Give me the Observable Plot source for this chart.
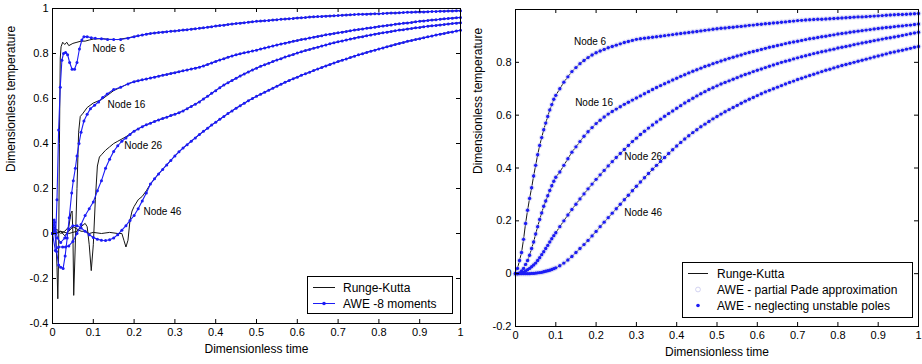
<!DOCTYPE html>
<html><head><meta charset="utf-8">
<script src="https://cdn.jsdelivr.net/npm/d3@7"></script>
<script src="https://cdn.jsdelivr.net/npm/@observablehq/plot@0.6"></script>
<style>
body{margin:0;background:#fff;font-family:"Liberation Sans",Arial,sans-serif;}
#wrap{position:relative;width:922px;height:364px;overflow:hidden;background:#fff;}
#wrap svg{position:absolute;top:0;}
</style></head><body><div id="wrap"></div>
<script>
// ---------- ticks / labels ----------
const xTicks = [0,0.1,0.2,0.3,0.4,0.5,0.6,0.7,0.8,0.9,1];
const yTicksLeft = [-0.4,-0.2,0,0.2,0.4,0.6,0.8,1];
const yTicksRight = [-0.2,0,0.2,0.4,0.6,0.8];
const nodeNames = ["Node 6","Node 16","Node 26","Node 46"];
const leftLabelX = [0.098,0.135,0.176,0.223];
const leftLabelY = [0.822,0.573,0.39,0.098];
const rightLabelX = [0.145,0.148,0.27,0.27];
const rightLabelY = [0.878,0.646,0.441,0.232];
const xLabel = "Dimensionless time";
const yLabel = "Dimensionless temperature";
const legendLeft = ["Runge-Kutta","AWE -8 moments"];
const legendRight = ["Runge-Kutta","AWE - partial Pade approximation","AWE - neglecting unstable poles"];

// ---------- left panel: early transients [t, y] ----------
const rk6Start = [[0,0],[0.004,0.03],[0.008,0],[0.011,-0.15],[0.013,-0.29],[0.015,-0.1],[0.017,0.4],[0.019,0.78],[0.021,0.83],[0.025,0.85],[0.03,0.84],[0.035,0.85],[0.04,0.835],[0.05,0.845],[0.06,0.85],[0.07,0.855],[0.08,0.855],[0.09,0.86],[0.1,0.864],[0.12,0.866],[0.14,0.863],[0.16,0.862],[0.18,0.868]];
const awe6Start = [[0,0],[0.004,0.06],[0.008,0],[0.011,0.15],[0.015,0.46],[0.019,0.65],[0.023,0.77],[0.027,0.8],[0.032,0.805],[0.037,0.795],[0.042,0.76],[0.048,0.73],[0.054,0.73],[0.06,0.76],[0.066,0.82],[0.072,0.86],[0.077,0.875],[0.085,0.875],[0.095,0.87],[0.105,0.868],[0.12,0.866],[0.135,0.862],[0.15,0.862],[0.167,0.862],[0.185,0.868]];
const rk16Start = [[0,0],[0.01,0.02],[0.02,0],[0.03,0.01],[0.04,0.03],[0.045,0.09],[0.048,0.1],[0.05,0],[0.052,-0.275],[0.055,-0.1],[0.06,0.2],[0.064,0.45],[0.068,0.52],[0.075,0.535],[0.085,0.56],[0.1,0.58],[0.12,0.595],[0.135,0.615],[0.15,0.635],[0.167,0.65],[0.185,0.665]];
const awe16Start = [[0,0],[0.005,0.02],[0.01,-0.08],[0.015,-0.14],[0.02,-0.15],[0.026,-0.155],[0.031,-0.1],[0.036,-0.02],[0.041,0.07],[0.047,0.18],[0.051,0.235],[0.056,0.29],[0.06,0.345],[0.065,0.4],[0.07,0.45],[0.077,0.5],[0.085,0.53],[0.093,0.555],[0.103,0.57],[0.113,0.585],[0.123,0.605],[0.134,0.62],[0.15,0.64],[0.167,0.65],[0.185,0.665]];
const rk26Start = [[0,0],[0.02,0.01],[0.04,0],[0.06,0.01],[0.07,0.03],[0.08,0.045],[0.085,0.03],[0.09,-0.05],[0.095,-0.165],[0.1,-0.05],[0.105,0.15],[0.11,0.3],[0.115,0.34],[0.12,0.35],[0.13,0.37],[0.14,0.385],[0.15,0.4],[0.16,0.41],[0.17,0.42],[0.18,0.43],[0.19,0.442]];
const awe26Start = [[0,0],[0.007,-0.075],[0.015,-0.06],[0.025,-0.06],[0.032,-0.06],[0.04,-0.055],[0.05,-0.035],[0.06,0],[0.07,0.04],[0.08,0.08],[0.09,0.11],[0.1,0.14],[0.11,0.19],[0.12,0.235],[0.13,0.29],[0.14,0.33],[0.15,0.365],[0.16,0.39],[0.17,0.41],[0.18,0.425],[0.19,0.44]];
const rk46Start = [[0,0],[0.005,0.02],[0.01,0],[0.02,0.01],[0.03,-0.01],[0.04,0.01],[0.05,0.03],[0.06,0.02],[0.07,0.01],[0.08,0.01],[0.09,0],[0.1,0.005],[0.12,0],[0.14,0.005],[0.16,0],[0.17,0],[0.175,-0.03],[0.18,-0.06],[0.185,-0.03],[0.19,0.06],[0.195,0.1],[0.2,0.12],[0.21,0.15],[0.22,0.165],[0.23,0.19]];
const awe46Start = [[0,0],[0.005,0.05],[0.012,-0.02],[0.02,-0.04],[0.03,-0.02],[0.04,0.02],[0.05,0.035],[0.06,0.035],[0.07,0.025],[0.08,0.01],[0.09,-0.005],[0.1,-0.018],[0.11,-0.025],[0.12,-0.03],[0.13,-0.031],[0.14,-0.028],[0.15,-0.02],[0.16,-0.005],[0.17,0.015],[0.18,0.035],[0.19,0.058],[0.2,0.08],[0.21,0.11],[0.22,0.145],[0.23,0.18]];

// ---------- left panel: common tails ----------
const leftTailT = [0.20,0.21,0.22,0.23,0.24,0.25,0.26,0.27,0.28,0.29,0.30,0.31,0.32,0.33,0.34,0.35,0.36,0.37,0.38,0.39,0.40,0.41,0.42,0.43,0.44,0.45,0.46,0.47,0.48,0.49,0.50,0.51,0.52,0.53,0.54,0.55,0.56,0.57,0.58,0.59,0.60,0.61,0.62,0.63,0.64,0.65,0.66,0.67,0.68,0.69,0.70,0.71,0.72,0.73,0.74,0.75,0.76,0.77,0.78,0.79,0.80,0.81,0.82,0.83,0.84,0.85,0.86,0.87,0.88,0.89,0.90,0.91,0.92,0.93,0.94,0.95,0.96,0.97,0.98,0.99,1.00];
const tail6 = [0.875,0.879,0.882,0.886,0.889,0.891,0.893,0.895,0.897,0.899,0.900,0.902,0.904,0.906,0.908,0.910,0.912,0.914,0.917,0.919,0.922,0.924,0.926,0.929,0.931,0.933,0.935,0.937,0.939,0.941,0.943,0.944,0.946,0.947,0.949,0.950,0.952,0.953,0.955,0.956,0.958,0.959,0.960,0.962,0.963,0.964,0.965,0.966,0.967,0.968,0.969,0.970,0.971,0.972,0.973,0.974,0.974,0.975,0.976,0.977,0.977,0.978,0.979,0.980,0.980,0.981,0.982,0.983,0.983,0.984,0.985,0.985,0.986,0.987,0.987,0.988,0.988,0.989,0.989,0.990,0.990];
const tail16 = [0.675,0.679,0.683,0.687,0.691,0.695,0.699,0.703,0.707,0.711,0.715,0.719,0.723,0.727,0.731,0.735,0.739,0.745,0.751,0.758,0.765,0.771,0.777,0.783,0.789,0.794,0.799,0.803,0.807,0.811,0.815,0.820,0.824,0.829,0.833,0.838,0.842,0.846,0.850,0.854,0.858,0.862,0.865,0.869,0.872,0.876,0.879,0.883,0.886,0.889,0.892,0.895,0.898,0.901,0.904,0.907,0.909,0.912,0.914,0.917,0.920,0.922,0.925,0.927,0.930,0.932,0.934,0.936,0.938,0.941,0.943,0.945,0.947,0.949,0.950,0.952,0.954,0.956,0.957,0.959,0.960];
const tail26 = [0.455,0.465,0.475,0.483,0.490,0.498,0.505,0.511,0.517,0.524,0.530,0.537,0.545,0.555,0.565,0.575,0.585,0.598,0.610,0.623,0.635,0.648,0.660,0.670,0.680,0.690,0.700,0.709,0.718,0.727,0.735,0.743,0.750,0.757,0.764,0.771,0.777,0.784,0.790,0.796,0.802,0.808,0.813,0.818,0.823,0.828,0.833,0.838,0.843,0.848,0.852,0.856,0.860,0.864,0.868,0.872,0.875,0.879,0.882,0.886,0.889,0.892,0.895,0.898,0.901,0.904,0.906,0.909,0.911,0.914,0.916,0.919,0.921,0.923,0.925,0.927,0.929,0.931,0.933,0.935,0.937];
const tail46 = [0.220,0.243,0.265,0.285,0.305,0.325,0.345,0.363,0.380,0.395,0.410,0.425,0.440,0.454,0.468,0.482,0.495,0.508,0.520,0.533,0.545,0.557,0.568,0.579,0.590,0.600,0.610,0.619,0.628,0.637,0.646,0.655,0.663,0.672,0.680,0.688,0.695,0.703,0.710,0.717,0.724,0.731,0.738,0.745,0.751,0.758,0.764,0.770,0.776,0.782,0.788,0.794,0.799,0.805,0.810,0.815,0.820,0.825,0.830,0.835,0.840,0.845,0.849,0.854,0.858,0.862,0.866,0.870,0.874,0.878,0.882,0.886,0.889,0.893,0.896,0.900,0.903];

// ---------- right panel ----------
const rightT = [0,0.005,0.01,0.015,0.02,0.025,0.03,0.035,0.04,0.045,0.05,0.055,0.06,0.065,0.07,0.075,0.08,0.085,0.09,0.095,0.1,0.11,0.12,0.13,0.14,0.15,0.16,0.17,0.18,0.19,0.20,0.21,0.22,0.23,0.24,0.25,0.26,0.27,0.28,0.29,0.30,0.31,0.32,0.33,0.34,0.35,0.36,0.37,0.38,0.39,0.40,0.41,0.42,0.43,0.44,0.45,0.46,0.47,0.48,0.49,0.50,0.51,0.52,0.53,0.54,0.55,0.56,0.57,0.58,0.59,0.60,0.61,0.62,0.63,0.64,0.65,0.66,0.67,0.68,0.69,0.70,0.71,0.72,0.73,0.74,0.75,0.76,0.77,0.78,0.79,0.80,0.81,0.82,0.83,0.84,0.85,0.86,0.87,0.88,0.89,0.90,0.91,0.92,0.93,0.94,0.95,0.96,0.97,0.98,0.99,1.00];
const right6 = [0,0.02,0.05,0.08,0.13,0.19,0.24,0.285,0.325,0.37,0.41,0.45,0.485,0.515,0.545,0.57,0.595,0.62,0.64,0.66,0.675,
0.70,0.725,0.745,0.765,0.78,0.795,0.807,0.818,0.828,0.836,
0.843,0.849,0.855,0.86,0.865,0.87,0.875,0.879,0.883,0.887,
0.889,0.891,0.893,0.895,0.897,0.899,0.901,0.903,0.905,0.907,
0.909,0.911,0.913,0.915,0.917,0.919,0.921,0.923,0.925,0.927,
0.929,0.930,0.932,0.933,0.935,0.936,0.938,0.940,0.941,0.943,
0.944,0.946,0.947,0.949,0.950,0.952,0.953,0.955,0.956,0.958,
0.959,0.960,0.961,0.962,0.963,0.963,0.964,0.965,0.966,0.967,
0.968,0.969,0.970,0.971,0.972,0.972,0.973,0.974,0.975,0.976,
0.977,0.978,0.979,0.980,0.981,0.981,0.982,0.983,0.984,0.985];
const right16 = [0,0,0.003,0.01,0.02,0.035,0.05,0.07,0.095,0.12,0.15,0.178,0.205,0.23,0.255,0.275,0.295,0.315,0.333,0.35,0.365,
0.385,0.41,0.435,0.46,0.48,0.50,0.52,0.537,0.553,0.568,
0.581,0.593,0.604,0.614,0.623,0.632,0.641,0.649,0.657,0.665,
0.673,0.681,0.689,0.697,0.705,0.712,0.719,0.726,0.733,0.740,
0.747,0.753,0.760,0.766,0.772,0.778,0.784,0.789,0.795,0.800,
0.805,0.810,0.815,0.819,0.824,0.828,0.833,0.837,0.841,0.845,
0.849,0.853,0.857,0.860,0.864,0.867,0.871,0.874,0.877,0.880,
0.883,0.886,0.889,0.891,0.894,0.897,0.899,0.902,0.904,0.907,
0.909,0.911,0.914,0.916,0.918,0.920,0.922,0.924,0.926,0.928,
0.930,0.932,0.933,0.935,0.937,0.938,0.940,0.941,0.943,0.945];
const right26 = [0,0,0.001,0.003,0.006,0.01,0.015,0.02,0.026,0.033,0.04,0.05,0.06,0.072,0.083,0.095,0.107,0.12,0.132,0.144,0.155,
0.178,0.20,0.222,0.243,0.263,0.283,0.302,0.321,0.339,0.357,
0.374,0.391,0.408,0.424,0.44,0.455,0.47,0.485,0.50,0.513,
0.527,0.539,0.551,0.563,0.574,0.585,0.596,0.606,0.616,0.626,
0.636,0.646,0.655,0.664,0.673,0.681,0.689,0.697,0.704,0.711,
0.718,0.724,0.730,0.736,0.742,0.748,0.754,0.759,0.765,0.770,
0.775,0.780,0.785,0.790,0.795,0.800,0.804,0.808,0.813,0.817,
0.821,0.825,0.829,0.833,0.836,0.840,0.843,0.847,0.850,0.854,
0.857,0.860,0.863,0.867,0.870,0.873,0.876,0.879,0.882,0.885,
0.888,0.891,0.893,0.896,0.899,0.902,0.905,0.908,0.911,0.914];
const right46 = [0,0,0,0,0,0,0,0,0.001,0.001,0.002,0.003,0.004,0.005,0.007,0.009,0.011,0.013,0.016,0.019,0.022,
0.03,0.04,0.052,0.065,0.08,0.095,0.11,0.126,0.143,0.16,
0.178,0.195,0.212,0.229,0.246,0.263,0.28,0.297,0.314,0.331,
0.347,0.363,0.379,0.395,0.41,0.425,0.44,0.455,0.469,0.483,
0.497,0.51,0.522,0.534,0.545,0.556,0.566,0.576,0.586,0.595,
0.604,0.613,0.621,0.629,0.637,0.645,0.653,0.66,0.667,0.674,
0.681,0.688,0.694,0.700,0.706,0.712,0.718,0.724,0.729,0.735,
0.740,0.745,0.750,0.755,0.760,0.765,0.770,0.774,0.779,0.783,
0.788,0.792,0.796,0.800,0.804,0.808,0.812,0.816,0.820,0.824,
0.828,0.832,0.836,0.839,0.843,0.846,0.850,0.853,0.857,0.860];

// ---------- helpers ----------
const BLUE = "#1c1cf5", BLACK = "#151515", FONT = "'Liberation Sans', Arial, Helvetica, sans-serif";
const pairs = (arr) => arr.map(([t, y]) => ({t, y}));
const cols = (T, Y) => T.map((t, i) => ({t, y: Y[i]}));
const join = (start, T, Y) => pairs(start).concat(cols(T, Y));

const leftRK = [join(rk6Start, leftTailT, tail6), join(rk16Start, leftTailT, tail16), join(rk26Start, leftTailT, tail26), join(rk46Start, leftTailT.slice(4), tail46)];
const leftAWE = [join(awe6Start, leftTailT, tail6), join(awe16Start, leftTailT, tail16), join(awe26Start, leftTailT, tail26), join(awe46Start, leftTailT.slice(4), tail46)];
const rightSeries = [right6, right16, right26, right46].map(Y => cols(rightT, Y));

function frameMarks(yMin, yMax, yTicks, ylabDx) {
  const fmt = d => String(d);
  return [
    Plot.frame({stroke: "#000", strokeWidth: 1}),
    Plot.ruleX(xTicks, {x: d => d, y1: () => yMin, y2: () => yMin, insetBottom: 4, stroke: "#000"}),
    Plot.ruleX(xTicks, {x: d => d, y1: () => yMax, y2: () => yMax, insetTop: 4, stroke: "#000"}),
    Plot.ruleY(yTicks, {y: d => d, x1: () => 0, x2: () => 0, insetLeft: 4, stroke: "#000"}),
    Plot.ruleY(yTicks, {y: d => d, x1: () => 1, x2: () => 1, insetRight: 4, stroke: "#000"}),
    Plot.axisX(xTicks, {anchor: "bottom", tickSize: 0, tickPadding: 5, tickFormat: fmt, label: null, fontSize: 11}),
    Plot.axisY(yTicks, {anchor: "left", tickSize: 0, tickPadding: 4, tickFormat: fmt, label: null, fontSize: 11}),
    Plot.text([xLabel], {frameAnchor: "bottom", dy: 29, text: d => d, fontSize: 12}),
    Plot.text([yLabel], {frameAnchor: "left", rotate: -90, dx: ylabDx, dy: 6, text: d => d, fontSize: 12})
  ];
}

const left = Plot.plot({
  width: 470, height: 364, marginLeft: 52, marginRight: 10, marginTop: 8, marginBottom: 41,
  x: {domain: [0, 1]}, y: {domain: [-0.4, 1]},
  style: {fontFamily: FONT, fontSize: "11px", background: "transparent", color: "#000"},
  marks: [
    ...leftRK.map(s => Plot.line(s, {x: "t", y: "y", stroke: BLACK, strokeWidth: 1})),
    ...leftAWE.map(s => Plot.line(s, {x: "t", y: "y", stroke: BLUE, strokeWidth: 1.1})),
    ...leftAWE.map(s => Plot.dot(s, {x: "t", y: "y", r: 1.5, fill: BLUE})),
    Plot.text(nodeNames, {x: (d, i) => leftLabelX[i], y: (d, i) => leftLabelY[i], text: d => d, textAnchor: "start", fontSize: 10}),
    ...frameMarks(-0.4, 1, yTicksLeft, -41)
  ]
});
left.style.left = "0px";

const right = Plot.plot({
  width: 452, height: 364, marginLeft: 45, marginRight: 4, marginTop: 9, marginBottom: 38,
  x: {domain: [0, 1]}, y: {domain: [-0.2, 1]},
  style: {fontFamily: FONT, fontSize: "11px", background: "transparent", color: "#000"},
  marks: [
    ...rightSeries.map(s => Plot.line(s, {x: "t", y: "y", stroke: BLACK, strokeWidth: 1})),
    ...rightSeries.map(s => Plot.dot(s, {x: "t", y: "y", r: 2.4, stroke: "#d4d4f2", strokeWidth: 0.7, fill: "none"})),
    ...rightSeries.map(s => Plot.dot(s, {x: "t", y: "y", r: 1.7, fill: BLUE})),
    Plot.text(nodeNames, {x: (d, i) => rightLabelX[i], y: (d, i) => rightLabelY[i], text: d => d, textAnchor: "start", fontSize: 10}),
    ...frameMarks(-0.2, 1, yTicksRight, -37)
  ]
});
right.style.left = "470px";

const wrap = document.getElementById("wrap");
wrap.appendChild(left);
wrap.appendChild(right);

// ---------- legends ----------
function legend(x, y, w, h, items) {
  const svg = d3.create("svg").attr("width", w + 1).attr("height", h + 1)
    .style("left", x + "px").style("top", y + "px").style("font-family", FONT).style("font-size", "12px");
  svg.append("rect").attr("x", 0.5).attr("y", 0.5).attr("width", w).attr("height", h).attr("fill", "#fff").attr("stroke", "#000");
  items.forEach((it) => {
    const cy = it.cy;
    if (it.line) svg.append("line").attr("x1", it.x0).attr("x2", it.x1).attr("y1", cy).attr("y2", cy).attr("stroke", it.line).attr("stroke-width", 1);
    if (it.dot) svg.append("circle").attr("cx", (it.x0 + it.x1) / 2).attr("cy", cy).attr("r", it.r).attr("fill", it.dot);
    if (it.ring) svg.append("circle").attr("cx", (it.x0 + it.x1) / 2).attr("cy", cy).attr("r", 2.4).attr("fill", "none").attr("stroke", it.ring).attr("stroke-width", 0.8);
    svg.append("text").attr("x", it.tx).attr("y", cy).attr("dy", "0.36em").text(it.text);
  });
  wrap.appendChild(svg.node());
}
legend(307, 276, 145, 37, [
  {cy: 11.5, x0: 6, x1: 28, line: BLACK, tx: 36, text: legendLeft[0]},
  {cy: 27.5, x0: 6, x1: 28, line: BLUE, dot: BLUE, r: 1.8, tx: 36, text: legendLeft[1]}
]);
legend(682, 262, 230, 55, [
  {cy: 11.5, x0: 6, x1: 26, line: BLACK, tx: 35, text: legendRight[0]},
  {cy: 27.5, x0: 6, x1: 26, ring: "#c8c8ee", tx: 35, text: legendRight[1]},
  {cy: 43.5, x0: 6, x1: 26, dot: BLUE, r: 1.8, tx: 35, text: legendRight[2]}
]);
</script></body></html>
